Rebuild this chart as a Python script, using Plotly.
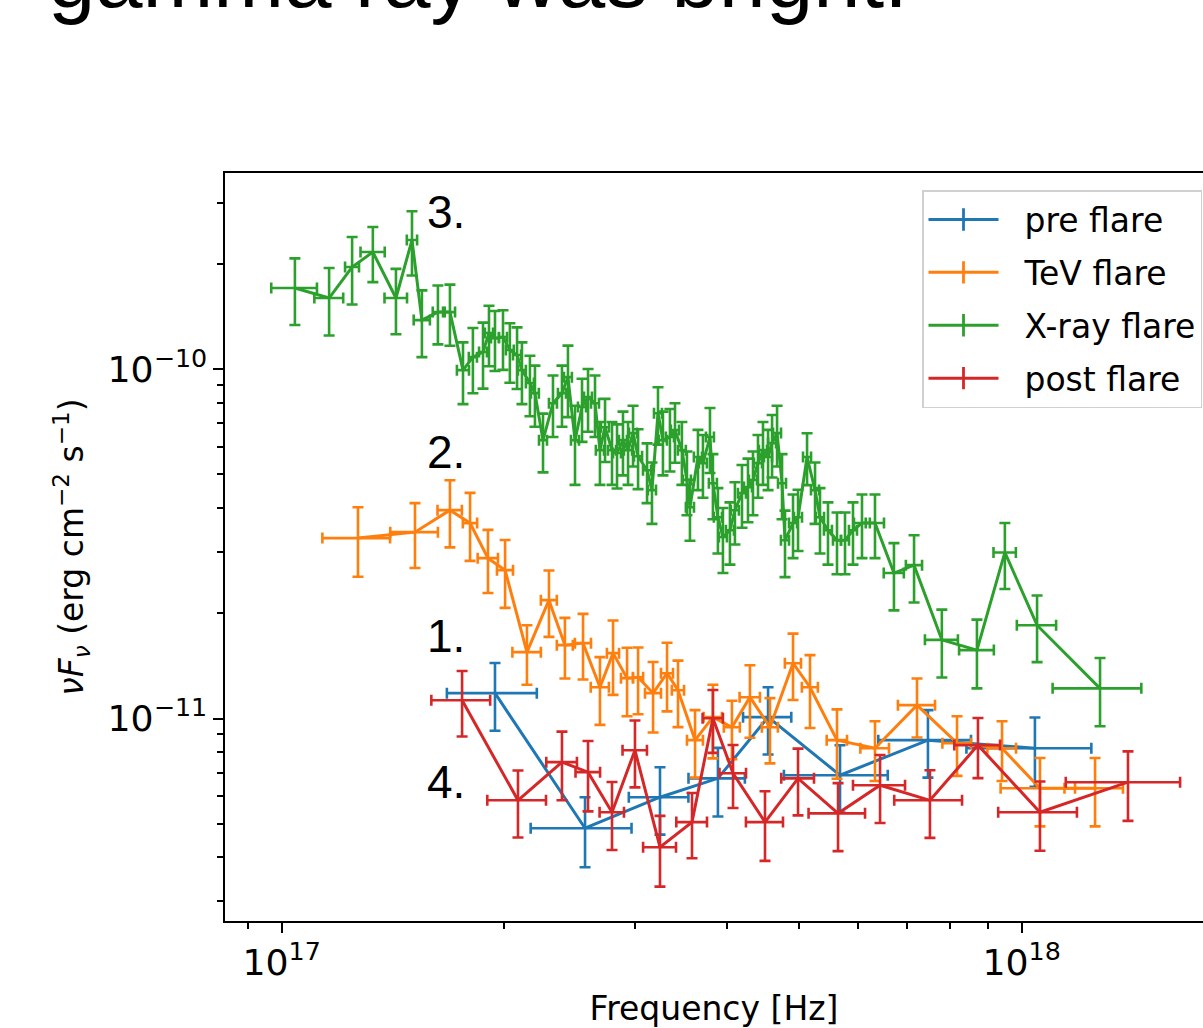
import numpy as np
import plotly.graph_objects as go

# ---------------- data (frequency in 1e17 Hz, flux in 1e-11 erg/cm2/s) -------------
pre_f = [1.942, 2.570, 3.245, 3.886, 4.542, 5.682, 7.470, 10.42]
pre_fe = [0.27, 0.40, 0.30, 0.34, 0.34, 0.91, 1.07, 2.0]
pre_y = [1.182, 0.485, 0.595, 0.674, 1.009, 0.688, 0.867, 0.822]
pre_ye = [0.26, 0.11, 0.13, 0.15, 0.22, 0.15, 0.19, 0.185]

tev_f = [1.268, 1.514, 1.688, 1.797, 1.900, 2.004, 2.145, 2.297, 2.414, 2.554,
         2.692, 2.804, 2.929, 3.031, 3.176, 3.317, 3.432, 3.619, 3.826, 4.059,
         4.293, 4.569, 4.909, 5.175, 5.629, 6.335, 7.220, 8.177, 9.406, 10.585, 12.564]
tev_fe = [0.133, 0.112, 0.064, 0.040, 0.060, 0.050, 0.095, 0.057, 0.060, 0.064,
          0.076, 0.053, 0.055, 0.048, 0.079, 0.062, 0.065, 0.090, 0.109, 0.101,
          0.136, 0.114, 0.123, 0.129, 0.178, 0.282, 0.416, 0.364, 0.419, 1.22, 1.14]
tev_y = [3.287, 3.418, 3.952, 3.628, 2.879, 2.660, 1.549, 2.183, 1.622, 1.644,
         1.229, 1.539, 1.305, 1.313, 1.182, 1.348, 1.205, 0.867, 1.009, 0.944,
         1.151, 0.944, 1.440, 1.229, 0.867, 0.822, 1.092, 0.850, 0.822, 0.631, 0.631]
tev_ye = [0.74, 0.72, 0.86, 0.80, 0.59, 0.585, 0.30, 0.47, 0.32, 0.35,
          0.27, 0.37, 0.29, 0.285, 0.27, 0.30, 0.26, 0.19, 0.24, 0.18,
          0.27, 0.20, 0.31, 0.29, 0.195, 0.16, 0.21, 0.165, 0.16, 0.14, 0.14]

xray_f = [1.042, 1.159, 1.245, 1.328, 1.427, 1.500, 1.547, 1.626, 1.688, 1.758,
          1.813, 1.871, 1.906, 1.942, 1.991, 2.034, 2.080, 2.112, 2.165, 2.199,
          2.255, 2.326, 2.392, 2.437, 2.491, 2.546, 2.594, 2.651, 2.692, 2.735,
          2.795, 2.839, 2.892, 2.938, 2.984, 3.031, 3.117, 3.165, 3.225, 3.275,
          3.347, 3.400, 3.474, 3.529, 3.562, 3.652, 3.709, 3.791, 3.826, 3.886,
          3.947, 4.034, 4.097, 4.188, 4.267, 4.334, 4.402, 4.471, 4.542, 4.599,
          4.671, 4.744, 4.788, 4.909, 4.986, 5.128, 5.257, 5.339, 5.473, 5.629,
          5.771, 5.916, 6.084, 6.335, 6.720, 7.154, 7.80, 8.70, 9.49, 10.49, 12.76]
xray_fe = [0.074, 0.052, 0.027, 0.050, 0.050, 0.024, 0.039, 0.026, 0.027, 0.033,
           0.023, 0.023, 0.024, 0.024, 0.025, 0.025, 0.026, 0.026, 0.027, 0.027,
           0.028, 0.029, 0.030, 0.030, 0.031, 0.032, 0.032, 0.033, 0.034, 0.034,
           0.035, 0.035, 0.036, 0.037, 0.037, 0.038, 0.039, 0.040, 0.040, 0.041,
           0.042, 0.043, 0.043, 0.044, 0.045, 0.046, 0.046, 0.047, 0.048, 0.049,
           0.049, 0.050, 0.051, 0.052, 0.053, 0.054, 0.055, 0.056, 0.057, 0.057,
           0.058, 0.059, 0.060, 0.061, 0.062, 0.064, 0.066, 0.067, 0.068, 0.070,
           0.072, 0.074, 0.15, 0.18, 0.21, 0.18, 0.40, 0.47, 0.33, 0.64, 1.75]
xray_y = [17.10, 16.01, 19.64, 21.68, 16.01, 23.47, 13.84, 14.59, 14.59, 9.95,
          10.84, 11.21, 12.71, 12.29, 12.37, 11.36, 10.99, 9.95, 9.14, 8.55,
          6.27, 8.00, 8.55, 9.50, 6.27, 7.80, 8.33, 8.00, 5.87, 6.83,
          5.87, 5.76, 6.27, 5.87, 6.57, 5.64, 5.14, 4.51, 7.49, 6.27,
          6.40, 6.70, 5.87, 4.82, 4.03, 5.61, 5.39, 6.40, 4.72, 3.77,
          3.31, 3.46, 3.95, 4.42, 4.60, 4.82, 5.39, 5.87, 5.61, 6.15,
          6.57, 4.72, 3.24, 3.63, 3.77, 5.61, 4.51, 3.77, 3.46, 3.24,
          3.24, 3.46, 3.63, 3.63, 2.61, 2.75, 1.68, 1.57, 2.99, 1.85, 1.22]
xray_ye = [3.7, 3.5, 4.3, 3.9, 3.4, 4.9, 3.0, 2.8, 2.9, 2.0,
           2.3, 2.4, 2.5, 2.4, 2.4, 2.2, 2.2, 2.0, 1.8, 1.7,
           1.2, 1.6, 1.7, 2.2, 1.6, 1.6, 1.7, 1.6, 1.2, 1.4,
           1.2, 1.2, 1.3, 1.2, 1.3, 1.1, 1.0, 0.9, 1.4, 1.3,
           1.3, 1.3, 1.2, 1.0, 0.8, 1.1, 1.1, 1.35, 1.0, 0.8,
           0.7, 0.7, 0.8, 0.9, 0.95, 1.0, 1.1, 1.2, 1.1, 1.25,
           1.3, 1.0, 0.7, 0.75, 0.75, 0.95, 0.9, 0.8, 0.7, 0.65,
           0.65, 0.7, 0.75, 0.75, 0.57, 0.6, 0.37, 0.35, 0.64, 0.4, 0.27]

post_f = [1.753, 2.086, 2.392, 2.594, 2.795, 3.002, 3.245, 3.585, 3.826, 4.073,
          4.499, 4.986, 5.647, 6.436, 7.516, 8.728, 10.585, 13.92]
post_fe = [0.16, 0.19, 0.114, 0.099, 0.106, 0.114, 0.166, 0.171, 0.121, 0.168,
           0.259, 0.254, 0.495, 0.52, 0.79, 0.62, 1.29, 2.45]
post_y = [1.128, 0.583, 0.750, 0.702, 0.539, 0.811, 0.428, 0.505, 1.002, 0.697,
          0.505, 0.674, 0.535, 0.644, 0.583, 0.839, 0.539, 0.657]
post_ye = [0.24, 0.127, 0.167, 0.16, 0.119, 0.176, 0.098, 0.107, 0.205, 0.143,
           0.114, 0.146, 0.118, 0.142, 0.128, 0.164, 0.121, 0.148]

series_names = ["pre flare", "TeV flare", "X-ray flare", "post flare"]
series_colors = ["#1f77b4", "#ff7f0e", "#2ca02c", "#d62728"]
labels = ["3.", "2.", "1.", "4."]

F_UNIT = 1e17
Y_UNIT = 1e-11

series = [
    (pre_f, pre_fe, pre_y, pre_ye),
    (tev_f, tev_fe, tev_y, tev_ye),
    (xray_f, xray_fe, xray_y, xray_ye),
    (post_f, post_fe, post_y, post_ye),
]

fig = go.Figure()
for (f, fe, y, ye), name, col in zip(series, series_names, series_colors):
    fig.add_trace(go.Scatter(
        x=np.array(f) * F_UNIT, y=np.array(y) * Y_UNIT, mode="lines",
        line=dict(color=col, width=3), showlegend=False, name=name,
        error_x=dict(type="data", array=np.array(fe) * F_UNIT, color=col, thickness=2.6, width=5.5),
        error_y=dict(type="data", array=np.array(ye) * Y_UNIT, color=col, thickness=2.6, width=5.5),
    ))
NB = "\u00a0"
for i, (name, col) in enumerate(zip(series_names, series_colors)):
    shown = NB * 2 + name
    fig.add_trace(go.Scatter(
        x=[None], y=[None], mode="lines+markers", name=shown, legendgroup=f"g{i}",
        line=dict(color=col, width=3),
        marker=dict(symbol="line-ns", size=16, line=dict(color=col, width=2.8), color=col),
    ))

PL, PR, PT, PB = 225, 1203, 173, 921
W, H = 1203, 1028

def px(xp):
    return (xp - PL) / (PR - PL)

def py(yp):
    return (PB - yp) / (PB - PT)

font = "DejaVu Sans"
annos = []
for txt, yc in zip(labels, [212, 452, 636, 782]):
    annos.append(dict(text=txt, x=px(425), y=py(yc), xref="paper", yref="paper",
                      xanchor="left", yanchor="middle", showarrow=False,
                      font=dict(family="Liberation Sans, Arial", size=46, color="black")))
annos.append(dict(text="gamma ray was bright.", x=px(46), y=py(27), xref="paper", yref="paper",
                  xanchor="left", yanchor="bottom", showarrow=False,
                  font=dict(family="Liberation Sans, Arial", size=85, color="black")))

fig.update_layout(
    width=W, height=H, autosize=False,
    margin=dict(l=PL, r=W - PR, t=PT, b=H - PB, pad=0, autoexpand=False),
    paper_bgcolor="white", plot_bgcolor="white",
    font=dict(family=font, size=33, color="black"),
    showlegend=True,
    legend=dict(x=px(922), y=py(190), xanchor="left", yanchor="top",
                bgcolor="rgba(255,255,255,0.85)", bordercolor="#d0d0d0", borderwidth=1.5,
                font=dict(family=font, size=33, color="black"),
                itemwidth=70, tracegroupgap=7, traceorder="grouped"),
    annotations=annos,
)
fig.update_xaxes(
    type="log", range=[np.log10(1e17) - 0.0766, np.log10(1e17) + 1.245],
    dtick=1, exponentformat="power", showgrid=False, zeroline=False,
    showline=True, linecolor="black", linewidth=2, mirror=True,
    ticks="outside", ticklen=10, tickwidth=2, tickcolor="black",
    minor=dict(ticks="outside", ticklen=6, tickwidth=1.5, tickcolor="black", dtick="D1", showgrid=False),
    title=dict(text="Frequency [Hz]", font=dict(family=font, size=33), standoff=14),
    tickfont=dict(family=font, size=29), automargin=False,
)
fig.update_yaxes(
    type="log", range=[-11.58, -9.4375],
    dtick=1, exponentformat="power", showgrid=False, zeroline=False,
    showline=True, linecolor="black", linewidth=2, mirror=False,
    ticks="outside", ticklen=10, tickwidth=2, tickcolor="black",
    minor=dict(ticks="outside", ticklen=6, tickwidth=1.5, tickcolor="black", dtick="D1", showgrid=False),
    title=dict(text="<i>νF</i><sub><i>ν</i></sub> (erg cm<sup>−2</sup> s<sup>−1</sup>)",
               font=dict(family=font, size=33), standoff=14),
    tickfont=dict(family=font, size=29), automargin=False,
)

fig.write_html("out.html")
